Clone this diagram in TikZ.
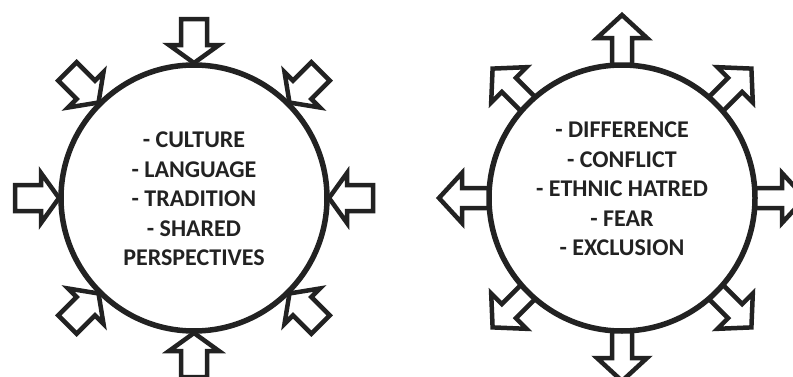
\documentclass[tikz,border=0pt]{standalone}
\usepackage{fontspec}
\setmainfont{Carlito}
\definecolor{ink}{HTML}{222222}

\begin{document}
\begin{tikzpicture}[x=1pt, y=1pt,
    ring/.style={circle, draw=ink, line width=5.5pt, minimum size=266pt, inner sep=0pt},
    blockarrow/.style={draw=ink, fill=white, line width=4.5pt, line join=miter},
    words/.style={align=center, text=ink, font=\bfseries\fontsize{24}{29.5}\selectfont}]
    \useasboundingbox (0,0) rectangle (793,376);
    \clip (0,0) rectangle (793,376);
    \coordinate (lc) at (194,178);
    \coordinate (rc) at (622,178);
    % pressure from outside: arrows pointing in
    \foreach \a in {0,45,...,315}
        \draw[blockarrow, shift={(lc)}, rotate=\a]
        (135,0) -- (153,25) -- (153,13) -- (179,13) -- (179,-13) -- (153,-13) -- (153,-25) -- cycle;
    % forces from inside: arrows pointing out
    \foreach \a in {0,45,...,315}
        \draw[blockarrow, shift={(rc)}, rotate=\a]
        (131,10) -- (160,10) -- (160,25) -- (183,0) -- (160,-25) -- (160,-10) -- (131,-10);
    \node[ring] (lring) at (lc) {};
    \node[ring] (rring) at (rc) {};
    \node[words] (bonds) at (194,177)
        {- CULTURE\\- LANGUAGE\\- TRADITION\\- SHARED\\PERSPECTIVES};
    \node[words] (rifts) at (622,187)
        {- DIFFERENCE\\- CONFLICT\\- ETHNIC HATRED\\- FEAR\\- EXCLUSION};
\end{tikzpicture}
\end{document}
